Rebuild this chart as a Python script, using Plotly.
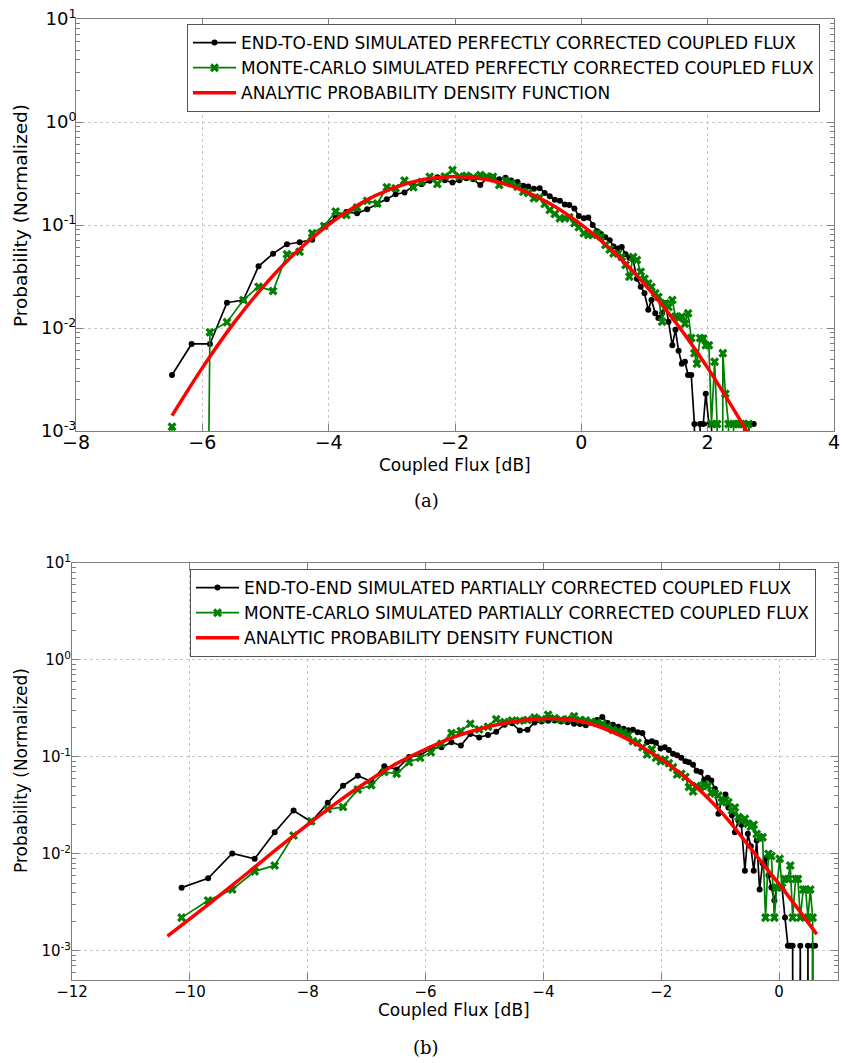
import plotly.graph_objects as go

# ---------------- data ----------------
TOP_X = [-6.48, -6.17, -5.88, -5.61, -5.35, -5.11, -4.88, -4.66, -4.46, -4.26,
         -4.07, -3.89, -3.72, -3.55, -3.39, -3.23, -3.08, -2.94, -2.80, -2.66,
         -2.53, -2.40, -2.28, -2.16, -2.04, -1.93, -1.82, -1.71, -1.60, -1.50,
         -1.40, -1.30, -1.20, -1.11, -1.01, -0.92, -0.84, -0.75, -0.66, -0.58,
         -0.50, -0.42, -0.34, -0.26, -0.19, -0.11, -0.04, 0.04, 0.11, 0.18,
         0.25, 0.31, 0.38, 0.45, 0.51, 0.58, 0.64, 0.70, 0.76, 0.82,
         0.88, 0.94, 1.00, 1.06, 1.11, 1.17, 1.22, 1.28, 1.33, 1.38,
         1.44, 1.49, 1.54, 1.59, 1.64, 1.69, 1.74, 1.79, 1.83, 1.88,
         1.93, 1.97, 2.02, 2.06, 2.11, 2.15, 2.20, 2.24, 2.28, 2.33,
         2.37, 2.41, 2.45, 2.49, 2.53, 2.57, 2.61, 2.65, 2.69, 2.73]

TOP_E2E = [0.0035, 0.0070, 0.0070, 0.0176, 0.0187, 0.0397, 0.0527, 0.065, 0.068, 0.072,
           0.098, 0.118, 0.134, 0.130, 0.142, 0.160, 0.178, 0.199, 0.207, 0.239,
           0.248, 0.269, 0.290, 0.272, 0.258, 0.272, 0.284, 0.278, 0.244, 0.284,
           0.290, 0.278, 0.288, 0.270, 0.262, 0.240, 0.236, 0.225, 0.228, 0.205,
           0.190, 0.176, 0.172, 0.158, 0.156, 0.145, 0.122, 0.116, 0.118, 0.100,
           0.087, 0.082, 0.076, 0.071, 0.062, 0.059, 0.061, 0.052, 0.048, 0.046,
           0.030, 0.0252, 0.0217, 0.0150, 0.0187, 0.0139, 0.0125, 0.0140, 0.0174, 0.0115,
           0.0068, 0.0096, 0.0060, 0.0045, 0.0047, 0.0035, 0.0035, 0.00117, 0, 0.00117,
           0.00117, 0.0023, 0.00117, 0.00117, 0, 0, 0, 0, 0, 0,
           0, 0, 0, 0, 0, 0, 0, 0.00117, 0.00117, 0.00117]

TOP_MC = [0.0011, 0, 0.0091, 0.0114, 0.0187, 0.0252, 0.0229, 0.0519, 0.0551, 0.083,
          0.0977, 0.135, 0.125, 0.148, 0.172, 0.162, 0.232, 0.227, 0.270, 0.232,
          0.262, 0.294, 0.250, 0.296, 0.342, 0.296, 0.300, 0.290, 0.305, 0.296,
          0.294, 0.244, 0.270, 0.255, 0.235, 0.210, 0.205, 0.182, 0.185, 0.160,
          0.140, 0.128, 0.116, 0.116, 0.119, 0.104, 0.095, 0.083, 0.080, 0.080,
          0.083, 0.077, 0.064, 0.058, 0.053, 0.053, 0.049, 0.041, 0.0315, 0.049,
          0.0457, 0.0352, 0.030, 0.027, 0.025, 0.0217, 0.020, 0.0115, 0.0174, 0.016,
          0.0187, 0.0129, 0.0125, 0.0129, 0.011, 0.0139, 0.0080, 0.0057, 0.0045, 0.0080,
          0.0079, 0.0068, 0.0068, 0.00117, 0.0047, 0.00117, 0, 0.0057, 0.0023, 0.00117,
          0, 0.00117, 0.00117, 0.00117, 0.00117, 0.00117, 0, 0.00117]

TOP_PDF_X = [-6.48, -6.0, -5.5, -5.0, -4.5, -4.0, -3.5, -3.0, -2.5, -2.0,
             -1.5, -1.0, -0.5, 0.0, 0.5, 1.0, 1.5, 2.0, 2.5, 2.65]
TOP_PDF_Y = [0.00141, 0.0041, 0.0112, 0.0267, 0.0556, 0.101, 0.162, 0.226, 0.276, 0.295,
             0.276, 0.226, 0.162, 0.101, 0.0556, 0.0267, 0.0112, 0.0041, 0.00132, 0.00092]

BOT_X = [-10.14, -9.69, -9.28, -8.90, -8.56, -8.24, -7.94, -7.66, -7.40, -7.15,
         -6.92, -6.70, -6.49, -6.28, -6.09, -5.91, -5.73, -5.56, -5.40, -5.24,
         -5.09, -4.94, -4.80, -4.66, -4.53, -4.40, -4.27, -4.15, -4.03, -3.92,
         -3.81, -3.70, -3.59, -3.48, -3.38, -3.28, -3.19, -3.09, -3.00, -2.91,
         -2.82, -2.73, -2.64, -2.56, -2.48, -2.40, -2.32, -2.24, -2.16, -2.09,
         -2.01, -1.94, -1.87, -1.80, -1.73, -1.66, -1.59, -1.53, -1.46, -1.40,
         -1.33, -1.27, -1.21, -1.15, -1.09, -1.03, -0.97, -0.91, -0.86, -0.80,
         -0.75, -0.69, -0.64, -0.58, -0.53, -0.48, -0.43, -0.38, -0.33, -0.28,
         -0.23, -0.18, -0.13, -0.08, -0.04, 0.01, 0.05, 0.10, 0.15, 0.19,
         0.23, 0.28, 0.32, 0.36, 0.41, 0.45, 0.49, 0.53, 0.57, 0.61]

BOT_E2E = [0.00448, 0.0056, 0.0101, 0.0089, 0.0167, 0.028, 0.0214, 0.0336, 0.0505, 0.0638,
           0.0558, 0.080, 0.0743, 0.0996, 0.104, 0.122, 0.126, 0.142, 0.131, 0.172,
           0.159, 0.168, 0.182, 0.215, 0.222, 0.187, 0.191, 0.226, 0.232, 0.236,
           0.238, 0.232, 0.228, 0.220, 0.218, 0.212, 0.225, 0.240, 0.258, 0.224,
           0.215, 0.205, 0.195, 0.188, 0.191, 0.180, 0.176, 0.142, 0.145, 0.140,
           0.122, 0.126, 0.118, 0.108, 0.104, 0.098, 0.090, 0.088, 0.083, 0.072,
           0.070, 0.058, 0.061, 0.057, 0.047, 0.026, 0.036, 0.041, 0.030, 0.025,
           0.0167, 0.022, 0.020, 0.0067, 0.0161, 0.0120, 0.0067, 0.0137, 0.0043, 0.0080,
           0.0090, 0.0060, 0.0045, 0.0033, 0.0045, 0.0045, 0.0045, 0.0022, 0.00113, 0.00113,
           0.00113, 0, 0, 0.00113, 0, 0, 0.00113, 0, 0.00113, 0.00113]

BOT_MC = [0.0022, 0.0033, 0.0043, 0.0066, 0.0076, 0.0155, 0.0217, 0.0288, 0.0305, 0.046,
          0.051, 0.070, 0.067, 0.088, 0.098, 0.112, 0.137, 0.176, 0.185, 0.220,
          0.192, 0.205, 0.245, 0.229, 0.238, 0.236, 0.240, 0.255, 0.245, 0.272,
          0.250, 0.242, 0.245, 0.262, 0.240, 0.238, 0.230, 0.225, 0.220, 0.205,
          0.190, 0.185, 0.178, 0.168, 0.145, 0.140, 0.126, 0.106, 0.120, 0.098,
          0.090, 0.094, 0.086, 0.078, 0.066, 0.067, 0.062, 0.049, 0.044, 0.050,
          0.049, 0.052, 0.050, 0.043, 0.042, 0.040, 0.034, 0.036, 0.034, 0.028,
          0.030, 0.024, 0.022, 0.023, 0.0205, 0.019, 0.020, 0.016, 0.0148, 0.0148,
          0.0022, 0.010, 0.0095, 0.0022, 0.0045, 0.0089, 0.0045, 0.0055, 0.0055, 0.0076,
          0.0022, 0.0055, 0.0055, 0.0022, 0.0043, 0.0043, 0.0022, 0.0043, 0.0022, 0]

BOT_PDF_X = [-10.38, -10.0, -9.5, -9.0, -8.5, -8.0, -7.5, -7.0, -6.5, -6.0,
             -5.5, -5.0, -4.5, -4.0, -3.5, -3.2, -2.64, -2.08, -1.51, -0.95,
             -0.38, 0.07, 0.64]
BOT_PDF_Y = [0.00142, 0.00214, 0.0037, 0.0065, 0.0115, 0.020, 0.034, 0.055, 0.085, 0.120,
             0.162, 0.200, 0.232, 0.248, 0.240, 0.220, 0.160, 0.102, 0.056, 0.0257,
             0.0095, 0.0043, 0.00148]

TOP_XTICKS = [-8, -6, -4, -2, 0, 2, 4]
BOT_XTICKS = [-12, -10, -8, -6, -4, -2, 0]
Y_TICKS = [1e-3, 1e-2, 1e-1, 1e0, 1e1]
Y_TICKTEXT = ["10<sup>-3</sup>", "10<sup>-2</sup>", "10<sup>-1</sup>", "10<sup>0</sup>", "10<sup>1</sup>"]

LEG_TOP = ["END-TO-END SIMULATED PERFECTLY CORRECTED COUPLED FLUX",
           "MONTE-CARLO SIMULATED PERFECTLY CORRECTED COUPLED FLUX",
           "ANALYTIC PROBABILITY DENSITY FUNCTION"]
LEG_BOT = ["END-TO-END SIMULATED PARTIALLY CORRECTED COUPLED FLUX",
           "MONTE-CARLO SIMULATED PARTIALLY CORRECTED COUPLED FLUX",
           "ANALYTIC PROBABILITY DENSITY FUNCTION"]
X_TITLE = "Coupled Flux [dB]"
Y_TITLE = "Probability (Normalized)"

# ---------------- figure ----------------
W, H = 842, 1063
FONT = "DejaVu Sans"
AXC = "#7f7f7f"
FLOOR = 1e-20  # empty histogram bins are drawn far below the axis (log scale)


def shown(vals):
    return [v if v > 0 else FLOOR for v in vals]


def minus(v):
    return str(v).replace("-", "\u2212")


fig = go.Figure()

panels = [
    dict(x=TOP_X, e2e=TOP_E2E, mc=TOP_MC, px=TOP_PDF_X, py=TOP_PDF_Y, names=LEG_TOP,
         xa="x", ya="y", leg="legend"),
    dict(x=BOT_X, e2e=BOT_E2E, mc=BOT_MC, px=BOT_PDF_X, py=BOT_PDF_Y, names=LEG_BOT,
         xa="x2", ya="y2", leg="legend2"),
]
for p in panels:
    fig.add_trace(go.Scatter(x=p["x"], y=shown(p["e2e"]), mode="lines+markers",
                             name=p["names"][0], xaxis=p["xa"], yaxis=p["ya"], legend=p["leg"],
                             line=dict(color="black", width=1.7),
                             marker=dict(symbol="circle", size=6, color="black")))
    fig.add_trace(go.Scatter(x=p["x"][:len(p["mc"])], y=shown(p["mc"]), mode="lines+markers",
                             name=p["names"][1], xaxis=p["xa"], yaxis=p["ya"], legend=p["leg"],
                             line=dict(color="#008000", width=1.7),
                             marker=dict(symbol="x", size=8, color="#008000")))
    fig.add_trace(go.Scatter(x=p["px"], y=p["py"], mode="lines", line_shape="spline",
                             name=p["names"][2], xaxis=p["xa"], yaxis=p["ya"], legend=p["leg"],
                             line=dict(color="#ff0000", width=3.5)))

common_axis = dict(showline=True, linecolor=AXC, linewidth=1, mirror="ticks",
                   ticks="inside", tickcolor=AXC, ticklen=7, tickwidth=1,
                   showgrid=True, gridcolor="#c8c8c8", griddash="dot", gridwidth=1,
                   zeroline=False, automargin=False)
minor_y = dict(ticks="inside", ticklen=4, tickcolor=AXC, dtick="D1", showgrid=False)

fig.update_layout(
    width=W, height=H,
    margin=dict(l=0, r=0, t=0, b=0, autoexpand=False),
    paper_bgcolor="white", plot_bgcolor="white",
    font=dict(family=FONT, color="black"),
    xaxis=dict(domain=[76 / W, 834 / W], range=[-8, 4], anchor="y",
               tickvals=TOP_XTICKS, ticktext=[minus(v) for v in TOP_XTICKS],
               tickfont=dict(size=19), ticklabelstandoff=-6, **common_axis),
    yaxis=dict(domain=[1 - 431 / H, 1 - 19 / H], type="log", range=[-3, 1], anchor="x",
               tickvals=Y_TICKS, ticktext=Y_TICKTEXT, tickfont=dict(size=18),
               ticklabelstandoff=-5, minor=minor_y, **common_axis),
    xaxis2=dict(domain=[72 / W, 838 / W], range=[-12, 1], anchor="y2",
                tickvals=BOT_XTICKS, ticktext=[minus(v) for v in BOT_XTICKS],
                tickfont=dict(size=15), ticklabelstandoff=-2, **common_axis),
    yaxis2=dict(domain=[1 - 980 / H, 1 - 563 / H], type="log", range=[-3.301, 1], anchor="x2",
                tickvals=Y_TICKS, ticktext=Y_TICKTEXT, tickfont=dict(size=15),
                ticklabelstandoff=-3, minor=minor_y, **common_axis),
    legend=dict(x=187 / W, y=1 - 24 / H, xanchor="left", yanchor="top",
                bgcolor="white", bordercolor="#555555", borderwidth=1, itemwidth=43,
                font=dict(size=17, family=FONT), tracegroupgap=0),
    legend2=dict(x=190 / W, y=1 - 569 / H, xanchor="left", yanchor="top",
                 bgcolor="white", bordercolor="#555555", borderwidth=1, itemwidth=43,
                 font=dict(size=17, family=FONT), tracegroupgap=0),
    showlegend=True,
)


def note(text, xp, yp, size, family=FONT, angle=0):
    fig.add_annotation(text=text, x=xp / W, y=1 - yp / H, xref="paper", yref="paper",
                       xanchor="center", yanchor="middle", textangle=angle,
                       showarrow=False, font=dict(size=size, family=family))


# axis titles (placed as in the reference)
note(X_TITLE, 455, 465, 17)
note(Y_TITLE, 21, 216, 18.5, angle=-90)
note(X_TITLE, 454, 1010, 17)
note(Y_TITLE, 21, 771, 17, angle=-90)

# panel captions
note("(a)", 426, 500, 18, family="DejaVu Serif")
note("(b)", 426, 1047, 18, family="DejaVu Serif")

# remove the default page margin so the 842x1063 figure sits at the window origin
fig.write_html("out.html", config={"displayModeBar": False},
               post_script="document.body.style.margin='0';"
                           "document.body.style.overflow='hidden';")
